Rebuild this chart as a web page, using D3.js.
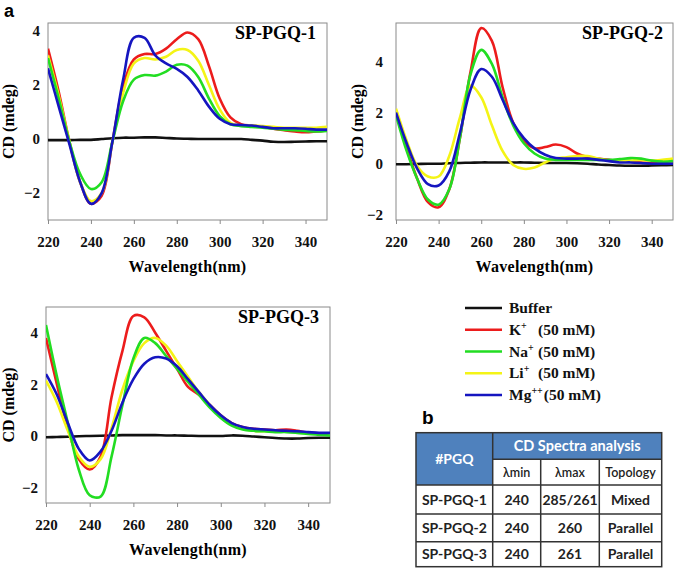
<!DOCTYPE html>
<html>
<head>
<meta charset="utf-8">
<script src="https://cdn.jsdelivr.net/npm/d3@7"></script>
<style>
  html, body { margin: 0; padding: 0; background: #fff; }
  svg { display: block; }
</style>
</head>
<body>
<svg id="chart" width="674" height="569"></svg>
<script>
// ---------------- DATA ----------------
const wavelengths = [220,225,230,235,240,245,250,255,260,265,270,275,280,285,290,295,300,305,310,315,320,325,330,335,340,345,350];
const seriesNames = ["Buffer", "K+", "Na+", "Li+", "Mg++"];
const yTicks = [-2, 0, 2, 4];
const xTicks = [220, 240, 260, 280, 300, 320, 340];
const panelTitles = ["SP-PGQ-1", "SP-PGQ-2", "SP-PGQ-3"];

// SP-PGQ-1
const pgq1Buffer = [-0.04,-0.04,-0.04,-0.03,-0.03,0.0,0.03,0.05,0.05,0.06,0.06,0.04,0.02,0.01,0.0,0.0,0.0,0.0,0.0,-0.03,-0.06,-0.1,-0.11,-0.1,-0.09,-0.08,-0.08];
const pgq1K      = [3.35,1.75,-0.1,-1.6,-2.4,-2.1,-0.1,1.95,2.95,3.15,3.15,3.35,3.7,3.95,3.7,2.7,1.5,0.8,0.55,0.5,0.45,0.38,0.33,0.28,0.25,0.28,0.32];
const pgq1Na     = [3.0,1.5,-0.1,-1.3,-1.85,-1.6,-0.1,1.4,2.2,2.37,2.35,2.5,2.75,2.72,2.3,1.5,0.85,0.55,0.48,0.45,0.42,0.38,0.35,0.33,0.3,0.28,0.3];
const pgq1Li     = [3.1,1.6,-0.1,-1.6,-2.3,-2.0,-0.1,1.7,2.8,3.0,2.95,3.05,3.3,3.3,2.9,2.0,1.1,0.6,0.5,0.5,0.48,0.45,0.42,0.42,0.42,0.42,0.45];
const pgq1Mg     = [2.62,1.2,-0.2,-1.6,-2.4,-2.0,-0.1,2.2,3.75,3.75,3.1,2.8,2.6,2.3,1.8,1.2,0.75,0.55,0.52,0.5,0.45,0.4,0.4,0.4,0.38,0.35,0.35];

// SP-PGQ-2
const pgq2Buffer = [-0.02,-0.02,-0.01,0.0,0.0,0.02,0.03,0.04,0.05,0.05,0.05,0.05,0.05,0.04,0.03,0.03,0.03,0.02,0.0,-0.03,-0.05,-0.07,-0.08,-0.08,-0.07,-0.06,-0.05];
const pgq2K      = [2.0,0.6,-0.6,-1.5,-1.7,-1.0,1.0,3.6,5.3,4.8,3.0,1.6,0.9,0.6,0.65,0.75,0.65,0.4,0.25,0.2,0.15,0.1,0.08,0.05,0.03,0.0,0.0];
const pgq2Na     = [1.9,0.5,-0.6,-1.4,-1.6,-1.0,1.0,3.5,4.45,3.9,2.6,1.5,0.8,0.4,0.2,0.15,0.15,0.15,0.15,0.15,0.15,0.18,0.22,0.2,0.12,0.08,0.1];
const pgq2Li     = [2.15,0.9,-0.1,-0.5,-0.5,0.3,1.8,3.05,2.6,1.5,0.5,-0.05,-0.2,-0.15,0.05,0.2,0.25,0.3,0.3,0.2,0.12,0.1,0.12,0.15,0.12,0.15,0.2];
const pgq2Mg     = [2.0,0.8,-0.2,-0.8,-0.85,-0.3,1.2,2.9,3.7,3.4,2.5,1.6,1.0,0.6,0.35,0.22,0.2,0.2,0.2,0.15,0.1,0.05,0.05,0.03,0.0,0.0,0.0];

// SP-PGQ-3
const pgq3Buffer = [-0.05,-0.04,-0.03,-0.01,0.0,0.01,0.02,0.03,0.03,0.03,0.03,0.02,0.02,0.01,0.0,0.0,0.0,0.02,0.01,-0.02,-0.05,-0.08,-0.1,-0.1,-0.08,-0.07,-0.07];
const pgq3K      = [3.8,2.0,0.3,-0.9,-1.3,-0.8,1.5,3.3,4.65,4.6,4.0,3.3,2.6,1.9,1.6,1.2,0.8,0.5,0.35,0.28,0.25,0.22,0.25,0.2,0.12,0.1,0.1];
const pgq3Na     = [4.3,2.3,0.5,-1.3,-2.3,-2.35,-0.8,1.2,3.0,3.8,3.6,3.1,2.6,2.1,1.6,1.1,0.7,0.4,0.25,0.2,0.18,0.15,0.15,0.12,0.08,0.05,0.02];
const pgq3Li     = [2.15,1.3,0.2,-0.8,-1.2,-0.9,0.3,1.8,2.9,3.6,3.8,3.5,2.9,2.3,1.7,1.2,0.75,0.45,0.3,0.2,0.18,0.17,0.18,0.15,0.12,0.1,0.08];
const pgq3Mg     = [2.4,1.6,0.5,-0.5,-0.95,-0.6,0.2,1.3,2.2,2.8,3.05,3.0,2.7,2.2,1.7,1.2,0.8,0.5,0.35,0.28,0.25,0.22,0.2,0.18,0.15,0.12,0.12];

// Table
const tableHeader = ["#PGQ", "CD Spectra analysis"];
const tableSubHeader = ["λmin", "λmax", "Topology"];
const tableRows = [
  ["SP-PGQ-1", "240", "285/261", "Mixed"],
  ["SP-PGQ-2", "240", "260", "Parallel"],
  ["SP-PGQ-3", "240", "261", "Parallel"]
];

// ---------------- STYLE / LAYOUT ----------------
const colors = ["#111111", "#ec1c1c", "#22dd22", "#f4f416", "#1515c0"];
const drawOrder = [0, 1, 3, 2, 4];
const serif = "'Liberation Serif', 'Times New Roman', serif";

const panels = [
  { title: panelTitles[0], data: [pgq1Buffer, pgq1K, pgq1Na, pgq1Li, pgq1Mg],
    x0: 48, x1: 327, y0: 23, y1: 220, yDom: [-3.0, 4.3], yLabelX: 9, tickGap: 8 },
  { title: panelTitles[1], data: [pgq2Buffer, pgq2K, pgq2Na, pgq2Li, pgq2Mg],
    x0: 396, x1: 673, y0: 23, y1: 220, yDom: [-2.2, 5.5], yLabelX: 358, tickGap: 13 },
  { title: panelTitles[2], data: [pgq3Buffer, pgq3K, pgq3Na, pgq3Li, pgq3Mg],
    x0: 46, x1: 330, y0: 307, y1: 503, yDom: [-2.6, 5.0], yLabelX: 9, tickGap: 8 }
];

const svg = d3.select("#chart");

svg.append("text").attr("x", 4).attr("y", 17)
  .attr("font-family", "'Liberation Sans', Arial, sans-serif")
  .attr("font-weight", "bold").attr("font-size", 18).text("a");

panels.forEach((p, pi) => {
  const x = d3.scaleLinear().domain([220, 350]).range([p.x0, p.x1]);
  const y = d3.scaleLinear().domain(p.yDom).range([p.y1, p.y0]);
  const g = svg.append("g");

  const clipId = "clip" + pi;
  g.append("clipPath").attr("id", clipId)
    .append("rect").attr("x", p.x0).attr("y", p.y0)
    .attr("width", p.x1 - p.x0).attr("height", p.y1 - p.y0);

  g.append("rect").attr("x", p.x0).attr("y", p.y0)
    .attr("width", p.x1 - p.x0).attr("height", p.y1 - p.y0)
    .attr("fill", "none").attr("stroke", "#8a8a8a").attr("stroke-width", 1);

  const xAxis = g.append("g").attr("transform", `translate(0,${p.y1})`)
    .call(d3.axisBottom(x).tickValues(xTicks).tickSize(4).tickSizeOuter(0).tickPadding(12));
  xAxis.select(".domain").remove();
  xAxis.selectAll("line").attr("stroke", "#8a8a8a");
  xAxis.selectAll("text").attr("font-family", serif).attr("font-weight", "bold")
    .attr("font-size", 15).attr("fill", "#111");

  const yAxis = g.append("g").attr("transform", `translate(${p.x0},0)`)
    .call(d3.axisLeft(y).tickValues(yTicks).tickSize(0).tickPadding(p.tickGap));
  yAxis.select(".domain").remove();
  yAxis.selectAll("text").attr("font-family", serif).attr("font-weight", "bold")
    .attr("font-size", 15).attr("fill", "#111");

  g.append("text")
    .attr("x", (p.x0 + p.x1) / 2).attr("y", p.y1 + 52)
    .attr("text-anchor", "middle")
    .attr("font-family", serif).attr("font-weight", "bold").attr("font-size", 16)
    .attr("letter-spacing", 0.3)
    .text("Wavelength(nm)");
  g.append("text")
    .attr("transform", `translate(${p.yLabelX + 5},${(p.y0 + p.y1) / 2}) rotate(-90)`)
    .attr("text-anchor", "middle")
    .attr("font-family", serif).attr("font-weight", "bold").attr("font-size", 16)
    .text("CD (mdeg)");

  const line = d3.line()
    .x((d, i) => x(wavelengths[i]))
    .y(d => y(d))
    .curve(d3.curveCatmullRom.alpha(0.5));
  const lg = g.append("g").attr("clip-path", `url(#${clipId})`);
  lg.selectAll("path").data(drawOrder).join("path")
    .attr("d", k => line(p.data[k]))
    .attr("fill", "none")
    .attr("stroke", k => colors[k])
    .attr("stroke-width", 2.6)
    .attr("stroke-linejoin", "round");

  g.append("text")
    .attr("x", p.x1 - (pi === 1 ? 10 : 11)).attr("y", p.y0 + 16)
    .attr("text-anchor", "end")
    .attr("font-family", serif).attr("font-weight", "bold").attr("font-size", 18)
    .text(p.title);
});

// ---------------- LEGEND ----------------
const legendLabels = [
  { base: "Buffer", sup: "", rest: "" },
  { base: "K", sup: "+", rest: "(50 mM)" },
  { base: "Na", sup: "+", rest: "(50 mM)" },
  { base: "Li", sup: "+", rest: "(50 mM)" },
  { base: "Mg", sup: "++", rest: "(50 mM)" }
];
const restMinX = 538;
const legend = svg.append("g");
const ly = d3.scalePoint().domain(d3.range(seriesNames.length)).range([308, 395]);
legendLabels.forEach((l, i) => {
  legend.append("line").attr("x1", 465).attr("x2", 502)
    .attr("y1", ly(i)).attr("y2", ly(i))
    .attr("stroke", colors[i]).attr("stroke-width", 2.6);
  const t = legend.append("text").attr("x", 509).attr("y", ly(i) + 5)
    .attr("font-family", serif).attr("font-weight", "bold").attr("font-size", 15.5)
    .attr("fill", "#111");
  t.append("tspan").text(l.base);
  if (l.sup) t.append("tspan").attr("dy", -6).attr("font-size", 10).text(l.sup);
  if (l.rest) {
    const endX = 509 + t.node().getComputedTextLength();
    legend.append("text").attr("x", Math.max(restMinX, endX + 1)).attr("y", ly(i) + 5)
      .attr("font-family", serif).attr("font-weight", "bold").attr("font-size", 15.5)
      .attr("fill", "#111").text(l.rest);
  }
});

// ---------------- TABLE ----------------
svg.append("text").attr("x", 422).attr("y", 424)
  .attr("font-family", "'Liberation Sans', Arial, sans-serif")
  .attr("font-weight", "bold").attr("font-size", 19).text("b");

const tf = "Lato, 'Open Sans', sans-serif";
const colX = [416, 492.7, 540.7, 599.3, 661.7];
const rowY = [432.7, 459.3, 485, 514, 541.7, 566.7];
const tg = svg.append("g");
const headBlue = "#4f81bd";
tg.append("rect").attr("x", colX[0]).attr("y", rowY[0])
  .attr("width", colX[1] - colX[0]).attr("height", rowY[2] - rowY[0]).attr("fill", headBlue);
tg.append("rect").attr("x", colX[1]).attr("y", rowY[0])
  .attr("width", colX[4] - colX[1]).attr("height", rowY[1] - rowY[0]).attr("fill", headBlue);

tg.append("text").attr("x", (colX[0] + colX[1]) / 2).attr("y", (rowY[0] + rowY[2]) / 2 + 5)
  .attr("text-anchor", "middle").attr("font-family", tf).attr("font-weight", "bold")
  .attr("font-size", 14).attr("fill", "#fff").text(tableHeader[0]);
tg.append("text").attr("x", (colX[1] + colX[4]) / 2).attr("y", (rowY[0] + rowY[1]) / 2 + 5)
  .attr("text-anchor", "middle").attr("font-family", tf).attr("font-weight", "bold")
  .attr("font-size", 14.5).attr("fill", "#fff").text(tableHeader[1]);
tableSubHeader.forEach((s, i) => {
  tg.append("text").attr("x", (colX[i + 1] + colX[i + 2]) / 2).attr("y", (rowY[1] + rowY[2]) / 2 + 4.5)
    .attr("text-anchor", "middle").attr("font-family", tf).attr("font-weight", "600")
    .attr("font-size", 12.5).attr("fill", "#222").text(s);
});
tableRows.forEach((r, ri) => {
  r.forEach((c, ci) => {
    tg.append("text").attr("x", (colX[ci] + colX[ci + 1]) / 2)
      .attr("y", (rowY[ri + 2] + rowY[ri + 3]) / 2 + 5)
      .attr("text-anchor", "middle").attr("font-family", tf).attr("font-weight", "bold")
      .attr("font-size", 14).attr("fill", "#222").text(c);
  });
});

const lineCol = "#333";
tg.append("rect").attr("x", colX[0]).attr("y", rowY[0])
  .attr("width", colX[4] - colX[0]).attr("height", rowY[5] - rowY[0])
  .attr("fill", "none").attr("stroke", lineCol).attr("stroke-width", 1.5);
[[1, colX[1], colX[4]], [2, colX[0], colX[4]], [3, colX[0], colX[4]], [4, colX[0], colX[4]]].forEach(([ri, a, b]) => {
  tg.append("line").attr("x1", a).attr("x2", b).attr("y1", rowY[ri]).attr("y2", rowY[ri])
    .attr("stroke", lineCol).attr("stroke-width", 1.5);
});
tg.append("line").attr("x1", colX[1]).attr("x2", colX[1]).attr("y1", rowY[0]).attr("y2", rowY[5])
  .attr("stroke", lineCol).attr("stroke-width", 1.5);
[2, 3].forEach(ci => {
  tg.append("line").attr("x1", colX[ci]).attr("x2", colX[ci]).attr("y1", rowY[1]).attr("y2", rowY[5])
    .attr("stroke", lineCol).attr("stroke-width", 1.5);
});
</script>
</body>
</html>
